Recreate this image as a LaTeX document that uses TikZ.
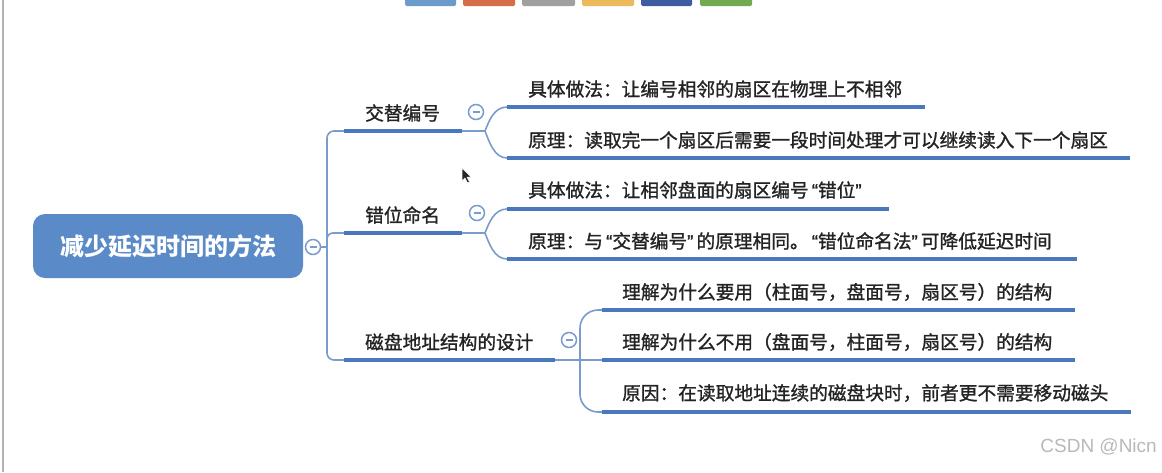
\documentclass[tikz,border=0pt]{standalone}
\usepackage{fontspec}
\setmainfont{Noto Sans CJK SC}
\newfontfamily\leaffont{Noto Sans CJK SC}[FakeBold=1.2]
\newfontfamily\wmfont{Liberation Sans}
\newfontfamily\qfont{Liberation Sans}[FakeBold=1.2]
\newcommand\myopenq{\makebox[0.5em][r]{\qfont“}}
\newcommand\mycloseq{\makebox[0.5em][l]{\qfont”}}
\definecolor{rootblue}{RGB}{90,138,200}
\definecolor{linethick}{RGB}{74,120,188}
\definecolor{linethin}{RGB}{122,155,204}
\definecolor{txt}{RGB}{35,35,35}
\definecolor{barA}{RGB}{107,155,205}
\definecolor{barB}{RGB}{212,110,72}
\definecolor{barC}{RGB}{160,160,160}
\definecolor{barD}{RGB}{236,186,92}
\definecolor{barE}{RGB}{62,92,162}
\definecolor{barF}{RGB}{112,170,82}
\begin{document}
\begin{tikzpicture}[x=1pt,y=-1pt,
  uline/.style={line width=4pt, draw=linethick},
  conn/.style={line width=1.6pt, draw=linethin},
  leaf/.style={anchor=west, inner sep=0pt, text=txt, font=\leaffont\fontsize{18.7}{22}\selectfont},
  rootbox/.style={rectangle, rounded corners=12pt, fill=rootblue, text=white, minimum width=270pt, minimum height=64pt, inner sep=0pt, font=\fontsize{24}{28}\selectfont\bfseries},
  tog/.style={circle, draw=linethin, line width=1.5pt, fill=white, minimum size=15pt, inner sep=0pt,
    path picture={\draw[line width=1.6pt, draw=linethin] ([xshift=-3.5pt]path picture bounding box.center) -- ([xshift=3.5pt]path picture bounding box.center);}},
  bar/.style={rounded corners=1.5pt}
]
\useasboundingbox (0,0) rectangle (1162,472);
\fill[white] (0,0) rectangle (1162,472);

% screen frame and toolbar
\draw[gray!60, line width=1.5pt] (3,0) -- (3,472);
\fill[barA, bar] (405,-3) rectangle (456,6);
\fill[barB, bar] (463,-3) rectangle (515,6);
\fill[barC, bar] (522,-3) rectangle (575,6);
\fill[barD, bar] (582,-3) rectangle (634,6);
\fill[barE, bar] (641,-3) rectangle (692,6);
\fill[barF, bar] (700,-3) rectangle (752,6);

% root
\node[rootbox] (root) at (168,246) {减少延迟时间的方法};
\node[tog] (t0) at (313,247) {};

% coordinates
\coordinate (vj) at (327,247);
\coordinate (b1a) at (344,131); \coordinate (b1b) at (462,131); \coordinate (f1) at (485,131);
\coordinate (b2a) at (344,233); \coordinate (b2b) at (462,233); \coordinate (f2) at (485,233);
\coordinate (b3a) at (344,360); \coordinate (b3b) at (555,360); \coordinate (f3) at (580,360);
\coordinate (c1a) at (507,107); \coordinate (c1b) at (925,107);
\coordinate (c2a) at (507,158); \coordinate (c2b) at (1130,158);
\coordinate (c3a) at (507,209); \coordinate (c3b) at (889,209);
\coordinate (c4a) at (507,259); \coordinate (c4b) at (1077,259);
\coordinate (c5a) at (602,310); \coordinate (c5b) at (1075,310);
\coordinate (c6a) at (602,360); \coordinate (c6b) at (1075,360);
\coordinate (c7a) at (602,412); \coordinate (c7b) at (1131,412);

% trunk connectors
\draw[conn] (t0.east) -- (vj);
\draw[conn, rounded corners=7pt] (b1a) -| (vj) |- (b3a);
\draw[conn, rounded corners=6pt] (vj) |- (b2a);

% branch underlines
\draw[uline] (b1a) -- (b1b);
\draw[uline] (b2a) -- (b2b);
\draw[uline] (b3a) -- (b3b);
\draw[conn] (b1b) -- (f1);
\draw[conn] (b2b) -- (f2);
\draw[conn] (b3b) -- (f3);

% forks
\draw[conn] (f1) .. controls +(4,-10) and +(-13,0) .. (c1a);
\draw[conn] (f1) .. controls +(4,10) and +(-13,0) .. (c2a);
\draw[conn] (f2) .. controls +(4,-10) and +(-13,0) .. (c3a);
\draw[conn] (f2) .. controls +(4,10) and +(-13,0) .. (c4a);
\draw[conn, rounded corners=18pt] (c5a) -| (f3) |- (c7a);
\draw[conn] (f3) -- (c6a);

% leaf underlines
\draw[uline] (c1a) -- (c1b);
\draw[uline] (c2a) -- (c2b);
\draw[uline] (c3a) -- (c3b);
\draw[uline] (c4a) -- (c4b);
\draw[uline] (c5a) -- (c5b);
\draw[uline] (c6a) -- (c6b);
\draw[uline] (c7a) -- (c7b);

% toggles
\node[tog] (t1) at (476,112) {};
\node[tog] (t2) at (477,213) {};
\node[tog] (t3) at (569,340) {};

% branch labels
\node[leaf] (n1) at (365,113) {交替编号};
\node[leaf] (n2) at (365,215) {错位命名};
\node[leaf] (n3) at (365,342) {磁盘地址结构的设计};

% leaf labels
\node[leaf] (l1) at (528,89) {具体做法：让编号相邻的扇区在物理上不相邻};
\node[leaf] (l2) at (528,140) {原理：读取完一个扇区后需要一段时间处理才可以继续读入下一个扇区};
\node[leaf] (l3) at (528,190) {具体做法：让相邻盘面的扇区编号\myopenq 错位\mycloseq};
\node[leaf] (l4) at (528,241) {原理：与\myopenq 交替编号\mycloseq 的原理相同。\myopenq 错位命名法\mycloseq 可降低延迟时间};
\node[leaf] (l5) at (622,292) {理解为什么要用（柱面号，盘面号，扇区号）的结构};
\node[leaf] (l6) at (622,342) {理解为什么不用（盘面号，柱面号，扇区号）的结构};
\node[leaf] (l7) at (622,393) {原因：在读取地址连续的磁盘块时，前者更不需要移动磁头};

% mouse cursor
\filldraw[fill=black!85, draw=white, line width=0.5pt]
  (462,168) -- (462,181) -- (465,178) -- (467.5,183) -- (469.5,182) -- (467,177) -- (471,177) -- cycle;

% watermark
\node[anchor=east, inner sep=0pt, text=gray!55, font=\wmfont\fontsize{19}{22}\selectfont] (wm) at (1157,447) {CSDN @Nicn};
\end{tikzpicture}
\end{document}
